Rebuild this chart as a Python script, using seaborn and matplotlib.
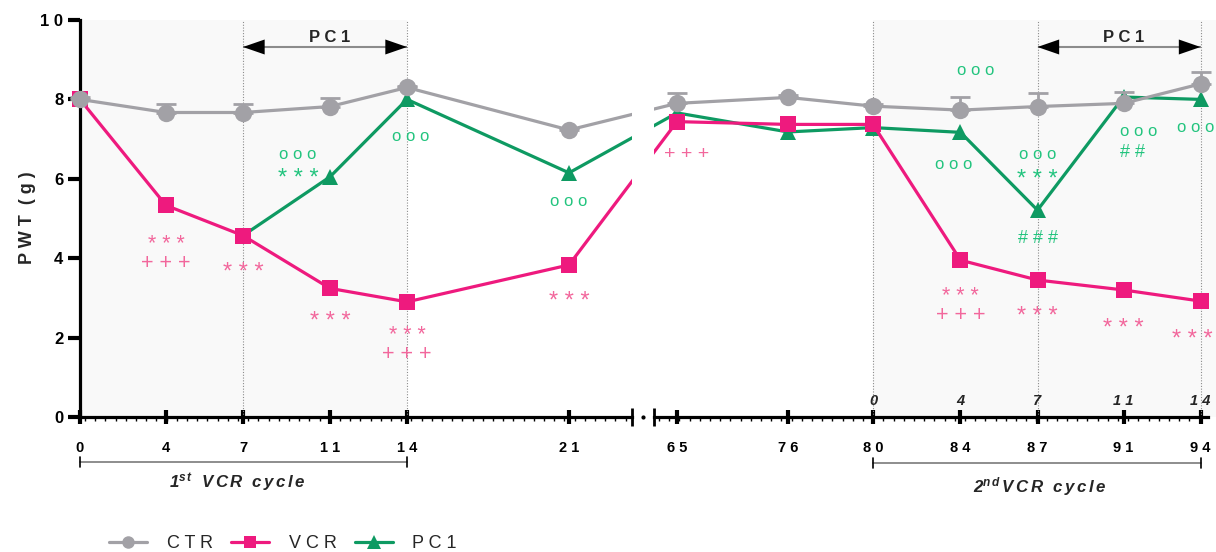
import numpy as np
import matplotlib
matplotlib.use("Agg")
import matplotlib.pyplot as plt
import matplotlib.transforms as mtransforms
from matplotlib.lines import Line2D
from matplotlib.ticker import FixedLocator, NullFormatter
import seaborn as sns

# ---- data: paw withdrawal threshold (g) per day ----
days = [0, 4, 7, 11, 14, 21, 65, 76, 80, 84, 87, 91, 94]
ctr_pwt = [8.00, 7.67, 7.67, 7.82, 8.30, 7.23, 7.90, 8.05, 7.83, 7.73, 7.82, 7.90, 8.39]
ctr_sem = [0.05, 0.21, 0.21, 0.21, 0.05, 0.05, 0.27, 0.05, 0.05, 0.33, 0.35, 0.28, 0.29]
vcr_pwt = [8.00, 5.33, 4.57, 3.24, 2.90, 3.83, 7.44, 7.37, 7.37, 3.95, 3.45, 3.20, 2.92]
pc1_days = [7, 11, 14, 21, 65, 76, 80, 84, 87, 91, 94]
pc1_pwt = [4.57, 6.05, 8.00, 6.15, 7.66, 7.18, 7.29, 7.17, 5.21, 8.06, 8.00]

series_names = ["CTR", "VCR", "PC1"]
cycle_days = [80, 84, 87, 91, 94]          # second VCR cycle, relabelled 0..14
left_ticks = [0, 4, 7, 11, 14, 21]
right_ticks = [65, 76, 80, 84, 87, 91, 94]

# ---- styling ----
GRAY, PINK, GREEN = "#a2a1a6", "#ee1a7e", "#0e9a62"
PINK_TXT, GREEN_TXT = "#f2679c", "#22c47e"
SHADE = "#f9f9f9"

sns.set_theme(style="ticks")
plt.rcParams["font.family"] = ["Liberation Sans", "DejaVu Sans"]
plt.rcParams["mathtext.fontset"] = "custom"
plt.rcParams["mathtext.rm"] = "Liberation Sans:bold:italic"
plt.rcParams["mathtext.it"] = "Liberation Sans:bold:italic"
plt.rcParams["mathtext.bf"] = "Liberation Sans:bold:italic"

W, H = 1216, 552
fig = plt.figure(figsize=(W / 100, H / 100), dpi=100)


def box(x0, x1, ytop, ybot):
    return [x0 / W, 1 - ybot / H, (x1 - x0) / W, (ybot - ytop) / H]


ax1 = fig.add_axes(box(80, 632, 20, 417))
ax2 = fig.add_axes(box(654, 1208, 20, 417), sharey=ax1)

# piecewise-linear day axis (uneven spacing between sampling days)
knot_days = np.array([-10, 0, 4, 7, 11, 14, 21, 65, 76, 80, 84, 87, 91, 94, 120])
knot_pos = np.array([-153, 80, 166, 243, 330, 407, 569, 677, 788, 873,
                     960.5, 1037.5, 1123.5, 1200.5, 1850])


def fwd(d):
    return np.interp(d, knot_days, knot_pos)


def inv(p):
    return np.interp(p, knot_pos, knot_days)


for ax in (ax1, ax2):
    ax.set_xscale("function", functions=(fwd, inv))
ax1.set_xlim(0, inv(632))
ax2.set_xlim(inv(654), inv(1208))
ax1.set_ylim(0, 10)

# shaded treatment cycles and dotted guides
ax1.axvspan(0, 14, color=SHADE, zorder=0, lw=0)
ax2.axvspan(80, inv(1216), color=SHADE, zorder=0, lw=0, clip_on=False)
for ax, guides in ((ax1, [7, 14]), (ax2, [80, 87, 94])):
    for g in guides:
        ax.axvline(g, color="#8c8c8c", ls=(0, (1, 1.5)), lw=0.8, zorder=1)

# series (lines are clipped at the axis break, but markers may overhang the y axis)
clip_regions = {
    ax1: mtransforms.TransformedBbox(mtransforms.Bbox([[60 / W, 0], [632 / W, 1]]),
                                     fig.transFigure),
    ax2: mtransforms.TransformedBbox(mtransforms.Bbox([[654 / W, 0], [1.0, 1]]),
                                     fig.transFigure),
}
for ax in (ax1, ax2):
    sns.lineplot(x=pc1_days, y=pc1_pwt, ax=ax, color=GREEN, marker="^",
                 markersize=12, linewidth=2.3, markeredgewidth=0, legend=False,
                 zorder=3, sort=False)
    sns.lineplot(x=days, y=vcr_pwt, ax=ax, color=PINK, marker="s",
                 markersize=12, linewidth=2.3, markeredgewidth=0, legend=False,
                 zorder=4, sort=False)
    ax.errorbar(days, ctr_pwt, yerr=[np.zeros(len(ctr_sem)), ctr_sem],
                fmt="none", ecolor=GRAY, elinewidth=2, capsize=7, capthick=2,
                zorder=4.5)
    sns.lineplot(x=days, y=ctr_pwt, ax=ax, color=GRAY, marker="o",
                 markersize=12.5, linewidth=2.3, markeredgewidth=0, legend=False,
                 zorder=5, sort=False)
    for ln in ax.get_lines():
        ln.set_clip_box(clip_regions[ax])

# axes cosmetics
spaced = lambda s: " ".join(str(s))
for ax, ticks, (p0, p1) in ((ax1, left_ticks, (80, 632)),
                            (ax2, right_ticks, (654, 1208))):
    for side in ("top", "right"):
        ax.spines[side].set_visible(False)
    ax.spines["bottom"].set_linewidth(2.3)
    ax.spines["bottom"].set_color("black")
    ax.xaxis.set_major_locator(FixedLocator(ticks))
    ax.set_xticklabels([spaced(t) for t in ticks], fontweight="bold", fontsize=10.5)
    # evenly spaced minor ticks along the drawn axis
    ax.xaxis.set_minor_locator(FixedLocator(inv(np.arange(p0 + 5, p1 - 2, 10.2))))
    ax.xaxis.set_minor_formatter(NullFormatter())
    ax.tick_params(axis="x", which="major", direction="inout", length=10,
                   width=3, pad=12, colors="black")
    ax.tick_params(axis="x", which="minor", direction="out", length=3,
                   width=1, colors="black")
    ax.set_xlabel("")
    ax.set_ylabel("")
    ax.set_facecolor("none")

ax1.spines["left"].set_linewidth(2.3)
ax1.spines["left"].set_color("black")
ax1.yaxis.set_major_locator(FixedLocator([0, 2, 4, 6, 8, 10]))
ax1.set_yticklabels([spaced(v) for v in [0, 2, 4, 6, 8, 10]],
                    fontweight="bold", fontsize=12)
ax1.tick_params(axis="y", direction="out", length=9, width=3, pad=3, colors="black")
ax2.spines["left"].set_visible(False)
ax2.tick_params(axis="y", left=False, labelleft=False)

# second-cycle day labels above the axis
for d in cycle_days:
    ax2.text(d, 0.40, spaced(d - cycle_days[0]), ha="center", va="center",
             fontsize=10.5, fontweight="bold", fontstyle="italic")

# axis break marks
for ax, xa in ((ax1, 1.0), (ax2, 0.0)):
    ax.plot([xa, xa], [-0.022, 0.022], transform=ax.transAxes, color="black",
            lw=2, clip_on=False, solid_capstyle="butt")
ax1.plot([(643 - 80) / 552], [0], transform=ax1.transAxes, marker="o",
         ms=2, color="black", clip_on=False)


# PC1 treatment arrows
def treatment_arrow(ax, d0, d1, y):
    ax.plot([d0, d1], [y, y], color="#8c8c8c", lw=1.5, zorder=2,
            solid_capstyle="butt")
    mid = inv((fwd(d0) + fwd(d1)) / 2)
    for end in (d0, d1):
        ax.annotate("", xy=(end, y), xytext=(mid, y),
                    arrowprops=dict(arrowstyle="-|>,head_length=1.3,head_width=0.45",
                                    color="black", lw=0, shrinkA=0, shrinkB=0),
                    zorder=3)
    ax.annotate("P C 1", xy=(mid, y + 0.25), xytext=(3, 0), textcoords="offset points",
                ha="center", va="center", fontsize=12, fontweight="bold")


treatment_arrow(ax1, 7, 14, 9.32)
treatment_arrow(ax2, 87, 94, 9.32)

# significance symbols: (axis, day, height, symbols, colour, x offset in px)
STACK = "* * *\n+ + +"
sig_marks = [
    (ax1, 4, 4.20, STACK, PINK_TXT, 0),
    (ax1, 7, 3.73, "* * *", PINK_TXT, 0), (ax1, 11, 2.49, "* * *", PINK_TXT, 0),
    (ax1, 14, 1.905, STACK, PINK_TXT, 0),
    (ax1, 21, 3.00, "* * *", PINK_TXT, 0),
    (ax1, 11, 6.62, "o o o", GREEN_TXT, -32), (ax1, 11, 6.10, "* * *", GREEN_TXT, -32),
    (ax1, 14, 7.06, "o o o", GREEN_TXT, 4), (ax1, 21, 5.42, "o o o", GREEN_TXT, 0),
    (ax2, 65, 6.60, "+ + +", PINK_TXT, 10),
    (ax2, 84, 8.74, "o o o", GREEN_TXT, 15), (ax2, 84, 6.37, "o o o", GREEN_TXT, -7),
    (ax2, 87, 6.62, "o o o", GREEN_TXT, 0), (ax2, 87, 6.07, "* * *", GREEN_TXT, 0),
    (ax2, 87, 4.50, "# # #", GREEN_TXT, 0),
    (ax2, 91, 7.18, "o o o", GREEN_TXT, 15), (ax2, 91, 6.65, "# #", GREEN_TXT, 9),
    (ax2, 94, 7.28, "o o o", GREEN_TXT, -5),
    (ax2, 84, 2.895, STACK, PINK_TXT, 0),
    (ax2, 87, 2.62, "* * *", PINK_TXT, 0), (ax2, 91, 2.32, "* * *", PINK_TXT, 0),
    (ax2, 94, 2.05, "* * *", PINK_TXT, -8),
]
sym_size = {"*": 17, "+": 14, "o": 12, "#": 13}
sym_dy = {"*": -3, "+": 0, "o": 0, "#": 0}     # asterisks sit high in the font
for ax, d, y, s, col, dx in sig_marks:
    if "\n" in s:
        size, dy, spacing = 15.5, -2.5, 0.88
    else:
        size, dy, spacing = sym_size[s[0]], sym_dy[s[0]], 1.2
    ax.annotate(s, xy=(d, y), xytext=(dx * 0.72, dy), textcoords="offset points",
                ha="center", va="center", ma="center", color=col, fontsize=size,
                linespacing=spacing, annotation_clip=False)


# cycle brackets below the tick labels
def bracket(ax, d0, d1, ypx, label, label_xpx, label_ypx):
    tr = mtransforms.blended_transform_factory(ax.transData, fig.transFigure)
    yf = 1 - ypx / H
    h = 5 / H
    ax.plot([d0, d1], [yf, yf], transform=tr, color="#7a7a7a", lw=1.2, clip_on=False)
    for d in (d0, d1):
        ax.plot([d, d], [yf - h, yf + h], transform=tr, color="black", lw=1.2,
                clip_on=False)
    fig.text(label_xpx / W, 1 - label_ypx / H, label, ha="center", va="center",
             fontsize=12.2)


bracket(ax1, 0, 14, 462, r"$1^{s\,t}\ \ V\,C\,R\ \ c\,y\,c\,l\,e$", 237, 483)
bracket(ax2, 80, 94, 463, r"$2^{n\,d}\,V\,C\,R\ \ c\,y\,c\,l\,e$", 1040, 487)

# y-axis title
fig.text(28 / W, 1 - 218 / H, "P W T  ( g )", rotation=90, ha="center",
         va="center", fontsize=13, fontweight="bold")

# legend
handles = [
    Line2D([], [], color=GRAY, marker="o", ms=9, lw=2.3, mew=0),
    Line2D([], [], color=PINK, marker="s", ms=9, lw=2.3, mew=0),
    Line2D([], [], color=GREEN, marker="^", ms=10, lw=2.3, mew=0),
]
fig.legend(handles, [spaced(n) for n in series_names], loc="center",
           bbox_to_anchor=(283 / W, 1 - 544 / H), ncol=3, frameon=False,
           fontsize=13, handlelength=2.1, handletextpad=1.1, columnspacing=1.0)

fig.savefig("out.png", dpi=100)
